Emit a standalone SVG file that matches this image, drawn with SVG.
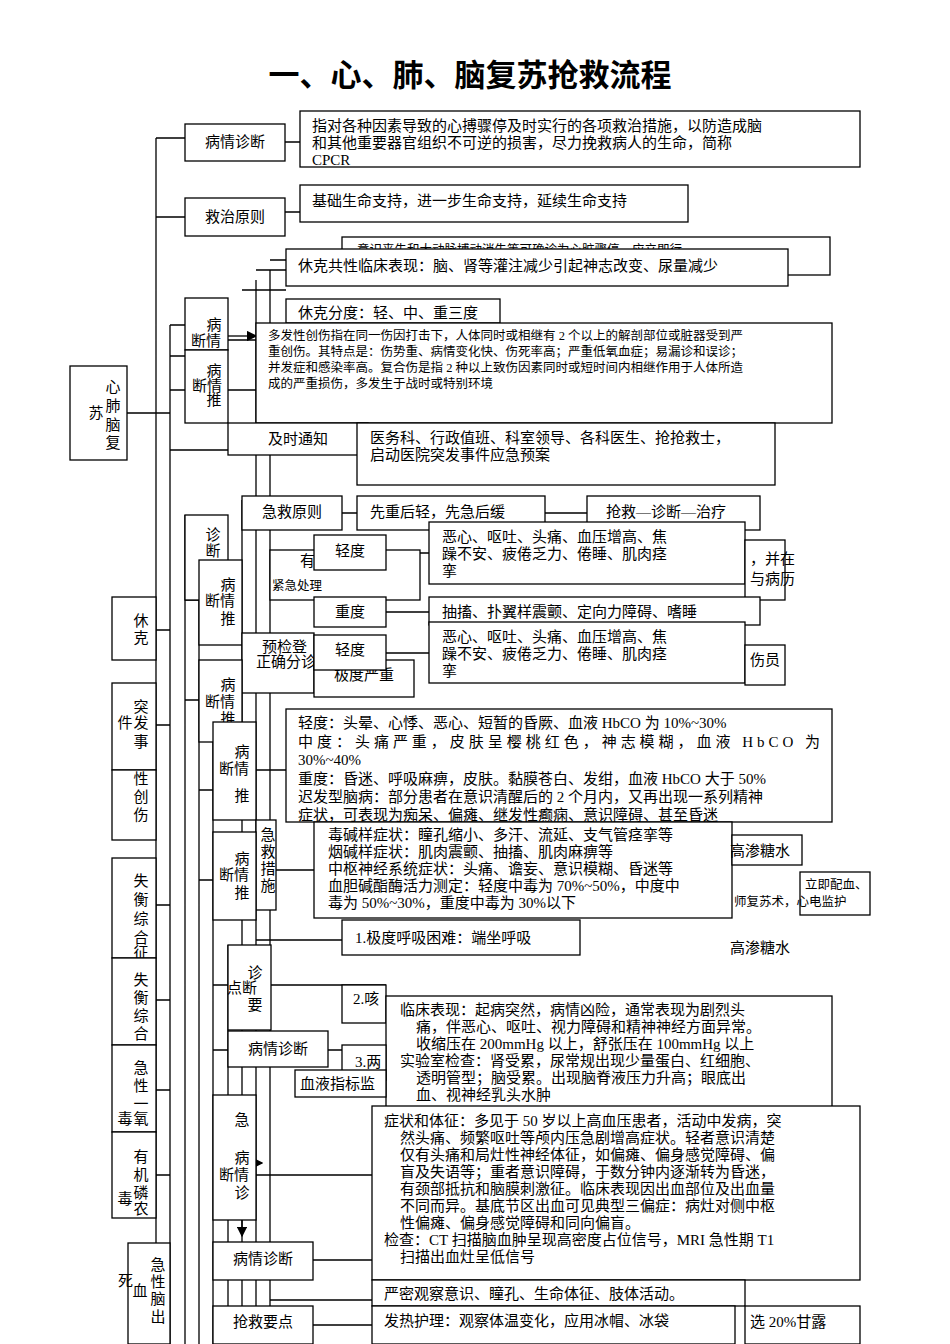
<svg xmlns="http://www.w3.org/2000/svg" width="950" height="1344" viewBox="0 0 950 1344">
<style>
.b{fill:#fff;stroke:#000;stroke-width:1.3}
.l{stroke:#000;stroke-width:1.3;fill:none}
text{font-family:"Liberation Serif","Noto Sans CJK SC",serif;font-size:15px;fill:#000}
.s{font-size:12.5px}
.t{font-size:31px;font-weight:bold}
</style>
<defs><marker id="a" markerWidth="8" markerHeight="8" refX="7" refY="4" orient="auto"><path d="M0,0L8,4L0,8z"/></marker></defs>
<rect width="950" height="1344" fill="#fff"/>
<text class="t" x="470" y="86" text-anchor="middle">一、心、肺、脑复苏抢救流程</text>
<g id="connectors">
<path class="l" d="M127,413H156M156,138V1344M156,138H185M156,217H185M285,142H300M285,212H300M156,413H170M170,325V1344M185,1344V515M199,1344V560M213,1344V722M228,1344V945M242,1344V500M256,1344V280M270,1344V270M170,325H185M170,356H185M170,390H185M170,450H228M156,630H170M156,725H170M156,905H170M156,1000H170M156,1090H170M156,1175H170M228,340H256M228,390H256M242,290H286M256,270H286M270,260H342M368,440H357M342,513H357M545,513H587M386,553H429M386,612H429M386,653H429M256,770H286M256,870H314M256,940H342M271,985H386M328,1050H386M256,1175H372M313,1260H372M313,1325H372M270,1300H372M185,600H199M185,700H199M199,790H213M199,880H213M213,985H228M213,1050H228"/>
<path class="l" d="M228,336H256" marker-end="url(#a)"/>
<path class="l" d="M242,1220V1236" marker-end="url(#a)"/>
<path class="l" d="M242,1163H262" marker-end="url(#a)"/>
</g>
<g id="root"><rect class="b" x="70" y="366" width="57" height="94"/><text x="113" y="392" text-anchor="middle">心</text><text x="113" y="411" text-anchor="middle">肺</text><text x="96" y="418" text-anchor="middle">苏</text><text x="113" y="430" text-anchor="middle">脑</text><text x="113" y="448" text-anchor="middle">复</text></g>
<g id="n1"><rect class="b" x="185" y="124" width="100" height="37"/><text x="235" y="147" text-anchor="middle">病情诊断</text></g>
<g id="n2"><rect class="b" x="300" y="111" width="560" height="56"/><text x="312" y="131">指对各种因素导致的心搏骤停及时实行的各项救治措施，以防造成脑</text><text x="312" y="148">和其他重要器官组织不可逆的损害，尽力挽救病人的生命，简称</text><text x="312" y="165">CPCR</text></g>
<g id="n3"><rect class="b" x="185" y="198" width="100" height="38"/><text x="235" y="222" text-anchor="middle">救治原则</text></g>
<g id="n4"><rect class="b" x="300" y="185" width="388" height="37"/><text x="312" y="206">基础生命支持，进一步生命支持，延续生命支持</text></g>
<g id="n5"><rect class="b" x="342" y="237" width="488" height="38"/><text x="357" y="254" class="s">意识丧失和大动脉搏动消失等可确诊为心脏骤停，应立即行</text></g>
<g id="n6"><rect class="b" x="286" y="249" width="502" height="37"/><text x="298" y="271">休克共性临床表现：脑、肾等灌注减少引起神志改变、尿量减少</text></g>
<g id="n7"><rect class="b" x="286" y="299" width="214" height="24"/><text x="298" y="318">休克分度：轻、中、重三度</text></g>
<g id="n8"><rect class="b" x="185" y="298" width="43" height="52"/><text x="214" y="330" text-anchor="middle">病</text><text x="206" y="346" text-anchor="middle">断情</text></g>
<g id="n9"><rect class="b" x="185" y="350" width="43" height="73"/><text x="214" y="376" text-anchor="middle">病</text><text x="207" y="391" text-anchor="middle">断情</text><text x="214" y="405" text-anchor="middle">推</text></g>
<g id="n10"><rect class="b" x="256" y="323" width="576" height="100"/><text class="s" x="268" y="340">多发性创伤指在同一伤因打击下，人体同时或相继有 2 个以上的解剖部位或脏器受到严</text><text class="s" x="268" y="356">重创伤。其特点是：伤势重、病情变化快、伤死率高；严重低氧血症；易漏诊和误诊；</text><text class="s" x="268" y="372">并发症和感染率高。复合伤是指 2 种以上致伤因素同时或短时间内相继作用于人体所造</text><text class="s" x="268" y="388">成的严重损伤，多发生于战时或特别环境</text></g>
<g id="n11"><rect class="b" x="228" y="423" width="140" height="32"/><text x="298" y="444" text-anchor="middle">及时通知</text></g>
<g id="n12"><rect class="b" x="357" y="423" width="418" height="62"/><text x="370" y="443">医务科、行政值班、科室领导、各科医生、抢抢救士，</text><text x="370" y="460">启动医院突发事件应急预案</text></g>
<g id="n13"><rect class="b" x="242" y="496" width="100" height="34"/><text x="292" y="517" text-anchor="middle">急救原则</text></g>
<g id="n14"><rect class="b" x="357" y="496" width="188" height="34"/><text x="370" y="517">先重后轻，先急后缓</text></g>
<g id="n15"><rect class="b" x="587" y="496" width="173" height="34"/><text x="606" y="517">抢救—诊断—治疗</text></g>
<g id="n16"><rect class="b" x="185" y="515" width="43" height="85"/><text x="213" y="540" text-anchor="middle">诊</text><text x="213" y="556" text-anchor="middle">断</text></g>
<g id="n17"><rect class="b" x="270" y="550" width="150" height="50"/><text x="300" y="566">有</text><text x="272" y="590" class="s">紧急处理</text></g>
<g id="n18"><rect class="b" x="199" y="560" width="43" height="85"/><text x="228" y="590" text-anchor="middle">病</text><text x="220" y="606" text-anchor="middle">断情</text><text x="228" y="624" text-anchor="middle">推</text></g>
<g id="n19"><rect class="b" x="314" y="535" width="72" height="35"/><text x="350" y="556" text-anchor="middle">轻度</text></g>
<g id="n20"><rect class="b" x="429" y="522" width="316" height="62"/><text x="442" y="542">恶心、呕吐、头痛、血压增高、焦</text><text x="442" y="559">躁不安、疲倦乏力、倦睡、肌肉痉</text><text x="442" y="576">挛</text></g>
<g id="n21"><rect class="b" x="745" y="540" width="40" height="60"/><text x="750" y="564">，并在</text><text x="750" y="584">与病历</text></g>
<g id="n22"><rect class="b" x="242" y="633" width="72" height="60"/><text x="262" y="652">预检登</text><text x="256" y="667">正确分诊</text></g>
<g id="n23"><rect class="b" x="314" y="597" width="72" height="30"/><text x="350" y="617" text-anchor="middle">重度</text></g>
<g id="n24"><rect class="b" x="429" y="597" width="331" height="28"/><text x="442" y="617">抽搐、扑翼样震颤、定向力障碍、嗜睡</text></g>
<g id="n25"><rect class="b" x="314" y="660" width="100" height="37"/><text x="364" y="680" text-anchor="middle">极度严重</text></g>
<g id="n26"><rect class="b" x="314" y="635" width="72" height="35"/><text x="350" y="655" text-anchor="middle">轻度</text></g>
<g id="n27"><rect class="b" x="429" y="622" width="316" height="61"/><text x="442" y="642">恶心、呕吐、头痛、血压增高、焦</text><text x="442" y="659">躁不安、疲倦乏力、倦睡、肌肉痉</text><text x="442" y="676">挛</text></g>
<g id="n28"><rect class="b" x="745" y="645" width="40" height="40"/><text x="750" y="665">伤员</text></g>
<g id="n29"><rect class="b" x="199" y="660" width="43" height="82"/><text x="228" y="690" text-anchor="middle">病</text><text x="220" y="707" text-anchor="middle">断情</text><text x="228" y="724" text-anchor="middle">推</text></g>
<g id="n30"><rect class="b" x="213" y="722" width="43" height="98"/><text x="242" y="757" text-anchor="middle">病</text><text x="234" y="774" text-anchor="middle">断情</text><text x="242" y="801" text-anchor="middle">推</text></g>
<g id="n31"><rect class="b" x="286" y="709" width="546" height="113"/><text x="298" y="728">轻度：头晕、心悸、恶心、短暂的昏厥、血液 HbCO 为 10%~30%</text><text x="298" y="747" textLength="522">中度：头痛严重，皮肤呈樱桃红色，神志模糊，血液 HbCO 为</text><text x="298" y="765">30%~40%</text><text x="298" y="784">重度：昏迷、呼吸麻痹，皮肤。黏膜苍白、发绀，血液 HbCO 大于 50%</text><text x="298" y="802">迟发型脑病：部分患者在意识清醒后的 2 个月内，又再出现一系列精神</text><text x="298" y="820">症状，可表现为痴呆、偏瘫、继发性癫痫、意识障碍、甚至昏迷</text></g>
<g id="n32"><rect class="b" x="256" y="820" width="20" height="90"/><text x="268" y="840" text-anchor="middle">急</text><text x="268" y="857" text-anchor="middle">救</text><text x="268" y="874" text-anchor="middle">措</text><text x="268" y="891" text-anchor="middle">施</text></g>
<g id="n33"><rect class="b" x="314" y="822" width="418" height="96"/><text x="328" y="840">毒碱样症状：瞳孔缩小、多汗、流延、支气管痉挛等</text><text x="328" y="857">烟碱样症状：肌肉震颤、抽搐、肌肉麻痹等</text><text x="328" y="874">中枢神经系统症状：头痛、谵妄、意识模糊、昏迷等</text><text x="328" y="891">血胆碱酯酶活力测定：轻度中毒为 70%~50%，中度中</text><text x="328" y="908">毒为 50%~30%，重度中毒为 30%以下</text></g>
<g id="n34"><rect class="b" x="732" y="835" width="70" height="30"/><text x="730" y="856">高渗糖水</text></g>
<g id="n35"><rect class="b" x="213" y="832" width="43" height="88"/><text x="242" y="864" text-anchor="middle">病</text><text x="234" y="880" text-anchor="middle">断情</text><text x="242" y="898" text-anchor="middle">推</text></g>
<g id="n36"><rect class="b" x="800" y="872" width="70" height="43"/><text class="s" x="805" y="889">立即配血、</text></g>
<text class="s" x="734" y="906">师复苏术，心电监护</text>
<g id="n37"><rect class="b" x="342" y="920" width="238" height="35"/><text x="355" y="943">1.极度呼吸困难：端坐呼吸</text></g>
<text x="730" y="953">高渗糖水</text>
<g id="n38"><rect class="b" x="228" y="945" width="43" height="85"/><text x="255" y="978" text-anchor="middle">诊</text><text x="242" y="993" text-anchor="middle">点断</text><text x="255" y="1010" text-anchor="middle">要</text></g>
<g id="n39"><rect class="b" x="342" y="985" width="44" height="38"/><text x="353" y="1004">2.咳</text></g>
<g id="n40"><rect class="b" x="386" y="996" width="446" height="114"/><text x="400" y="1015">临床表现：起病突然，病情凶险，通常表现为剧烈头</text><text x="416" y="1032">痛，伴恶心、呕吐、视力障碍和精神神经方面异常。</text><text x="416" y="1049">收缩压在 200mmHg 以上，舒张压在 100mmHg 以上</text><text x="400" y="1066">实验室检查：肾受累，尿常规出现少量蛋白、红细胞、</text><text x="416" y="1083">透明管型；脑受累。出现脑脊液压力升高；眼底出</text><text x="416" y="1100">血、视神经乳头水肿</text></g>
<g id="n41"><rect class="b" x="228" y="1031" width="100" height="36"/><text x="278" y="1054" text-anchor="middle">病情诊断</text></g>
<g id="n42"><rect class="b" x="342" y="1045" width="44" height="35"/><text x="355" y="1067">3.两</text></g>
<g id="n43"><rect class="b" x="295" y="1070" width="91" height="27"/><text x="300" y="1089">血液指标监</text></g>
<g id="n44"><rect class="b" x="213" y="1095" width="43" height="125"/><text x="242" y="1125" text-anchor="middle">急</text><text x="242" y="1163" text-anchor="middle">病</text><text x="234" y="1180" text-anchor="middle">断情</text><text x="242" y="1198" text-anchor="middle">诊</text></g>
<g id="n45"><rect class="b" x="372" y="1106" width="488" height="174"/><text x="384" y="1126">症状和体征：多见于 50 岁以上高血压患者，活动中发病，突</text><text x="400" y="1143">然头痛、频繁呕吐等颅内压急剧增高症状。轻者意识清楚</text><text x="400" y="1160">仅有头痛和局灶性神经体征，如偏瘫、偏身感觉障碍、偏</text><text x="400" y="1177">盲及失语等；重者意识障碍，于数分钟内逐渐转为昏迷，</text><text x="400" y="1194">有颈部抵抗和脑膜刺激征。临床表现因出血部位及出血量</text><text x="400" y="1211">不同而异。基底节区出血可见典型三偏症：病灶对侧中枢</text><text x="400" y="1228">性偏瘫、偏身感觉障碍和同向偏盲。</text><text x="384" y="1245">检查：CT 扫描脑血肿呈现高密度占位信号，MRI 急性期 T1</text><text x="400" y="1262">扫描出血灶呈低信号</text></g>
<g id="n46"><rect class="b" x="128" y="1243" width="42" height="101"/><text x="158" y="1270" text-anchor="middle">急</text><text x="158" y="1287" text-anchor="middle">性</text><text x="140" y="1296" text-anchor="middle">血</text><text x="158" y="1304" text-anchor="middle">脑</text><text x="158" y="1322" text-anchor="middle">出</text></g>
<g id="n47"><rect class="b" x="213" y="1242" width="100" height="38"/><text x="263" y="1264" text-anchor="middle">病情诊断</text></g>
<g id="n48"><rect class="b" x="372" y="1280" width="373" height="26"/><text x="384" y="1299">严密观察意识、瞳孔、生命体征、肢体活动。</text></g>
<g id="n49"><rect class="b" x="213" y="1306" width="100" height="38"/><text x="263" y="1327" text-anchor="middle">抢救要点</text></g>
<g id="n50"><rect class="b" x="372" y="1306" width="363" height="38"/><text x="384" y="1326">发热护理：观察体温变化，应用冰帽、冰袋</text></g>
<g id="n51"><rect class="b" x="745" y="1306" width="115" height="38"/><text x="750" y="1327">选 20%甘露</text></g>
<g id="n52"><rect class="b" x="112" y="597" width="44" height="63"/><text x="141" y="626" text-anchor="middle">休</text><text x="141" y="643" text-anchor="middle">克</text></g>
<g id="n53"><rect class="b" x="112" y="683" width="44" height="87"/><text x="141" y="712" text-anchor="middle">突</text><text x="125" y="728" text-anchor="middle">件</text><text x="141" y="728" text-anchor="middle">发</text><text x="141" y="747" text-anchor="middle">事</text></g>
<g id="n54"><rect class="b" x="112" y="770" width="44" height="70"/><text x="141" y="784" text-anchor="middle">性</text><text x="141" y="802" text-anchor="middle">创</text><text x="141" y="820" text-anchor="middle">伤</text></g>
<g id="n55"><rect class="b" x="112" y="858" width="44" height="100"/><text x="141" y="886" text-anchor="middle">失</text><text x="141" y="905" text-anchor="middle">衡</text><text x="141" y="924" text-anchor="middle">综</text><text x="141" y="943" text-anchor="middle">合</text><text x="141" y="958" text-anchor="middle">征</text></g>
<g id="n56"><rect class="b" x="112" y="958" width="44" height="87"/><text x="141" y="985" text-anchor="middle">失</text><text x="141" y="1003" text-anchor="middle">衡</text><text x="141" y="1021" text-anchor="middle">综</text><text x="141" y="1039" text-anchor="middle">合</text></g>
<g id="n57"><rect class="b" x="112" y="1045" width="44" height="87"/><text x="141" y="1073" text-anchor="middle">急</text><text x="141" y="1091" text-anchor="middle">性</text><text x="141" y="1109" text-anchor="middle">一</text><text x="125" y="1124" text-anchor="middle">毒</text><text x="141" y="1124" text-anchor="middle">氧</text></g>
<g id="n58"><rect class="b" x="112" y="1132" width="44" height="86"/><text x="141" y="1162" text-anchor="middle">有</text><text x="141" y="1180" text-anchor="middle">机</text><text x="125" y="1204" text-anchor="middle">毒</text><text x="141" y="1198" text-anchor="middle">磷</text><text x="141" y="1214" text-anchor="middle">农</text></g>
<text x="118" y="1286">死</text>
</svg>
